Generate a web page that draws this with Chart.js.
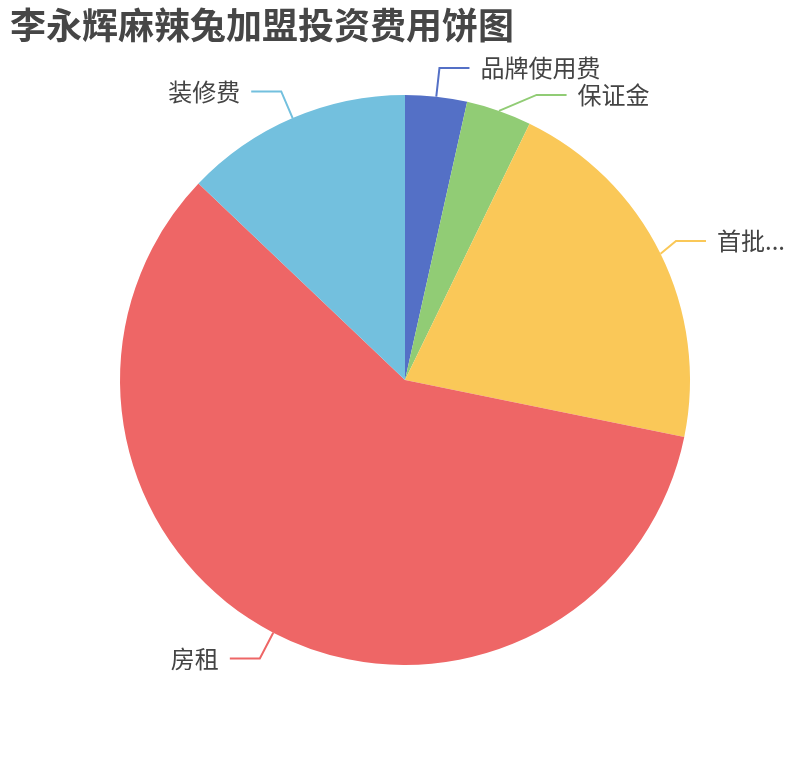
<!DOCTYPE html>
<html>
<head>
<meta charset="utf-8">
<script src="https://cdn.jsdelivr.net/npm/chart.js@4.4.0/dist/chart.umd.min.js"></script>
<style>
  html, body { margin: 0; padding: 0; background: #fff; }
  #pie { display: block; }
</style>
</head>
<body>
<canvas id="pie" width="810" height="760"></canvas>
<script>
// data (share of total, %)
const titleText = '李永辉麻辣兔加盟投资费用饼图';
const categories = ['品牌使用费', '保证金', '首批...', '房租', '装修费'];
const values = [3.5, 3.7, 21.0, 58.9, 12.9];
const colors = ['#5470c6', '#91cc75', '#fac858', '#ee6666', '#73c0de'];

const LABEL_FONT = '24px "Noto Sans CJK SC", "Noto Sans", sans-serif';
const TITLE_FONT = 'bold 36px "Noto Sans CJK SC", "Noto Sans", sans-serif';

// outside labels with two-part leader lines (echarts look)
const outsideLabels = {
    id: 'outsideLabels',
    afterDatasetsDraw(chart) {
        const ctx = chart.ctx;
        const arcs = chart.getDatasetMeta(0).data;
        const len1 = 29, len2 = 30, gap = 11, minGap = 27, edge = 25;

        ctx.save();
        ctx.font = LABEL_FONT;

        const items = arcs.map(function(arc, i) {
            const mid = (arc.startAngle + arc.endAngle) / 2;
            const r = arc.outerRadius;
            const R = r + len1;
            return {
                i: i,
                cx: arc.x, cy: arc.y, R: R,
                x0: arc.x + Math.cos(mid) * r,
                y0: arc.y + Math.sin(mid) * r,
                x1: arc.x + Math.cos(mid) * R,
                y1: arc.y + Math.sin(mid) * R,
                right: Math.cos(mid) >= 0,
                w: ctx.measureText(categories[i]).width
            };
        });

        // push apart labels that sit too close on the same side
        [true, false].forEach(function(side) {
            const group = items.filter(function(it) { return it.right === side; })
                .sort(function(a, b) { return a.y1 - b.y1; });
            for (let k = 1; k < group.length; k++) {
                const prev = group[k - 1], cur = group[k];
                if (cur.y1 - prev.y1 < minGap) {
                    cur.y1 = prev.y1 + minGap;
                    const dy = cur.y1 - cur.cy;
                    if (Math.abs(dy) < cur.R) {
                        const dx = Math.sqrt(cur.R * cur.R - dy * dy);
                        cur.x1 = cur.cx + (side ? dx : -dx);
                    }
                }
            }
        });

        // keep labels inside the canvas
        items.forEach(function(it) {
            if (it.right) {
                const over = it.x1 + len2 + gap + it.w - (chart.width - edge);
                if (over > 0) it.x1 -= over;
            } else {
                const over = edge - (it.x1 - len2 - gap - it.w);
                if (over > 0) it.x1 += over;
            }
        });

        ctx.textBaseline = 'middle';
        items.forEach(function(it) {
            const dir = it.right ? 1 : -1;
            const x2 = it.x1 + dir * len2;
            ctx.strokeStyle = colors[it.i];
            ctx.lineWidth = 2;
            ctx.beginPath();
            ctx.moveTo(it.x0, it.y0);
            ctx.lineTo(it.x1, it.y1);
            ctx.lineTo(x2, it.y1);
            ctx.stroke();
            ctx.fillStyle = '#444';
            ctx.textAlign = it.right ? 'left' : 'right';
            ctx.fillText(categories[it.i], x2 + dir * gap, it.y1);
        });

        // title
        ctx.font = TITLE_FONT;
        ctx.fillStyle = '#464646';
        ctx.textAlign = 'left';
        ctx.textBaseline = 'middle';
        ctx.fillText(titleText, 10, 25);
        ctx.restore();
    }
};

const ctx = document.getElementById('pie').getContext('2d');
new Chart(ctx, {
    type: 'pie',
    data: {
        labels: categories,
        datasets: [{
            data: values,
            backgroundColor: colors,
            borderWidth: 0,
            hoverOffset: 0
        }]
    },
    options: {
        responsive: false,
        animation: false,
        layout: {
            padding: { top: 95, bottom: 95, left: 0, right: 0 }
        },
        plugins: {
            legend: { display: false },
            tooltip: { enabled: false }
        }
    },
    plugins: [outsideLabels]
});
</script>
</body>
</html>
